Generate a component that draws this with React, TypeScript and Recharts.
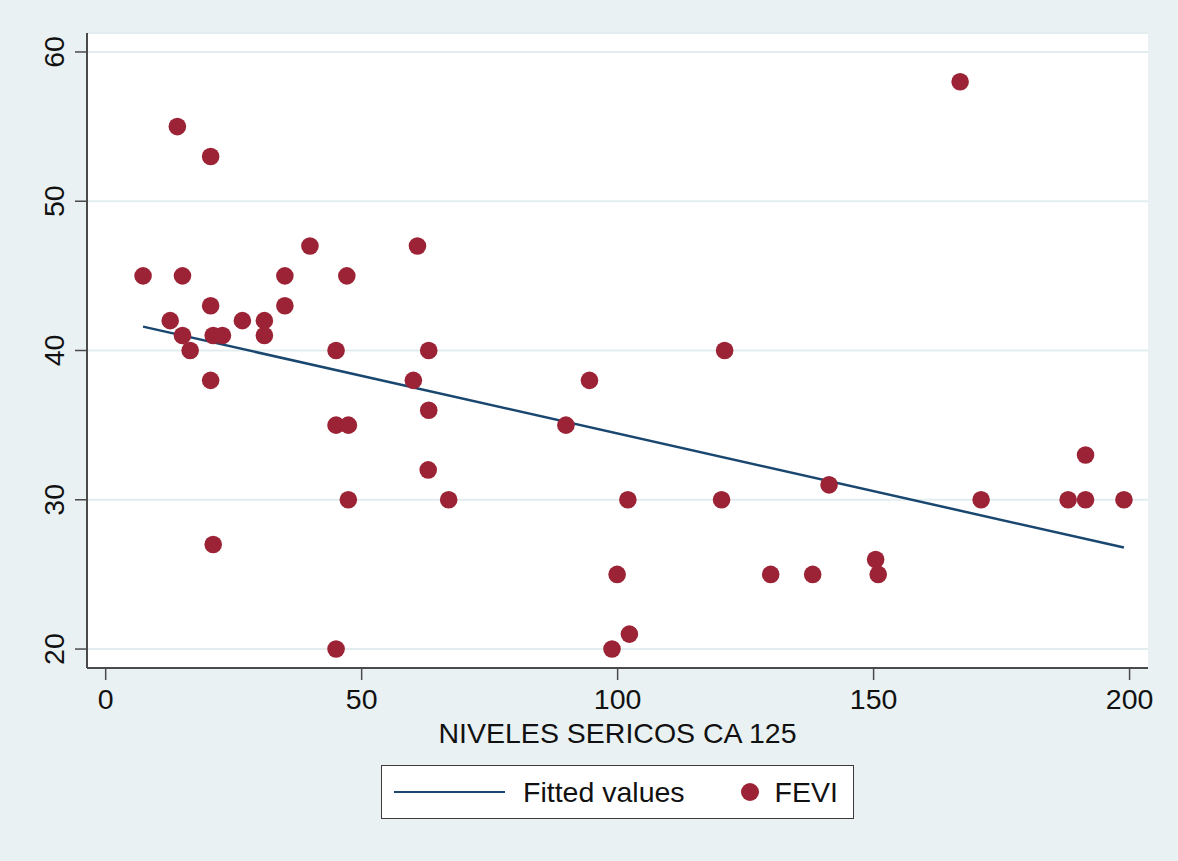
import { ScatterChart, Scatter, XAxis, YAxis, CartesianGrid } from 'recharts';

// CA 125 serum levels (x) and FEVI (y)
const ca125 = [
    7.3, 14.0, 20.5, 12.6, 15.0, 15.0, 16.5, 20.5, 21.0, 22.8,
    20.5, 21.0, 26.7, 31.0, 31.0, 35.0, 35.0, 39.9, 45.0, 47.1,
    45.0, 47.4, 47.4, 45.0, 60.9, 60.1, 63.1, 63.1, 63.0, 67.0,
    89.9, 94.5, 102.0, 99.9, 98.9, 102.3, 120.9, 120.3, 129.9, 138.1,
    141.3, 150.4, 150.9, 166.9, 171.0, 188.0, 191.4, 191.4, 198.9,
];
const fevi = [
    45, 55, 53, 42, 45, 41, 40, 43, 41, 41,
    38, 27, 42, 42, 41, 45, 43, 47, 40, 45,
    35, 35, 30, 20, 47, 38, 40, 36, 32, 30,
    35, 38, 30, 25, 20, 21, 40, 30, 25, 25,
    31, 26, 25, 58, 30, 30, 33, 30, 30,
];

// linear fit endpoints (Fitted values)
const fittedX = [7.3, 198.9];
const fittedY = [41.6, 26.8];

const xTicks = [0, 50, 100, 150, 200];
const yTicks = [20, 30, 40, 50, 60];

const scatterData = ca125.map((x, i) => ({ x, y: fevi[i] }));
const fittedData = fittedX.map((x, i) => ({ x, y: fittedY[i] }));

const BG = '#e9f1f3';
const GRID = '#e3edf0';
const AXIS = '#4a4a4a';
const DOT = '#9b2335';
const LINE = '#1a476f';
const FONT = '"Liberation Sans", Arial, Helvetica, sans-serif';
const FS = 28.5;

const YTick = (props: any) => {
    const { x, y, payload } = props;
    const cx = x - 11;
    return (
        <text
            x={cx}
            y={y}
            transform={`rotate(-90, ${cx}, ${y})`}
            textAnchor="middle"
            fill="#111"
            fontSize={FS}
            fontFamily={FONT}
        >
            {payload.value}
        </text>
    );
};

const XTitle = (props: any) => {
    const { viewBox } = props;
    return (
        <text
            x={viewBox.x + viewBox.width / 2}
            y={viewBox.y + 75}
            textAnchor="middle"
            fill="#111"
            fontSize={FS}
            fontFamily={FONT}
        >
            NIVELES SERICOS CA 125
        </text>
    );
};

// legend drawn as a plain box under the plot, like Stata's
const LegendBox = () => (
    <div
        style={{
            position: 'absolute',
            left: 381,
            top: 765,
            boxSizing: 'border-box',
            width: 473,
            height: 54,
            background: '#fff',
            border: '1.5px solid #3a3a3a',
            display: 'flex',
            alignItems: 'center',
            fontFamily: FONT,
            fontSize: FS,
            color: '#111',
        }}
    >
        <div style={{ marginLeft: 12, width: 111, height: 2.5, background: LINE }} />
        <span style={{ marginLeft: 18 }}>Fitted values</span>
        <div style={{ marginLeft: 56, width: 18, height: 18, borderRadius: 9, background: DOT }} />
        <span style={{ marginLeft: 16 }}>FEVI</span>
    </div>
);

export default function App() {
    return (
        <div style={{ position: 'absolute', left: 0, top: 0, width: 1178, height: 861, background: BG }}>
            <ScatterChart
                width={1178}
                height={861}
                margin={{ top: 33, right: 30, left: 27, bottom: 133 }}
            >
                <CartesianGrid
                    fill="#fff"
                    stroke={GRID}
                    strokeWidth={2}
                    vertical={false}
                    horizontal={true}
                />
                <XAxis
                    type="number"
                    dataKey="x"
                    domain={[-3.65, 203.6]}
                    ticks={xTicks}
                    allowDataOverflow
                    height={60}
                    tickSize={12}
                    tickMargin={9}
                    axisLine={{ stroke: AXIS, strokeWidth: 2 }}
                    tickLine={{ stroke: AXIS, strokeWidth: 1.5 }}
                    tick={{ fill: '#111', fontSize: FS, fontFamily: FONT }}
                    label={<XTitle />}
                />
                <YAxis
                    type="number"
                    dataKey="y"
                    domain={[18.73, 61.27]}
                    ticks={yTicks}
                    allowDataOverflow
                    width={60}
                    tickSize={12}
                    tickMargin={0}
                    axisLine={{ stroke: AXIS, strokeWidth: 2 }}
                    tickLine={{ stroke: AXIS, strokeWidth: 1.5 }}
                    tick={<YTick />}
                />
                <Scatter
                    name="Fitted values"
                    data={fittedData}
                    line={{ stroke: LINE, strokeWidth: 2.5 }}
                    shape={() => <g />}
                    isAnimationActive={false}
                />
                <Scatter
                    name="FEVI"
                    data={scatterData}
                    fill={DOT}
                    shape={(p: any) => <circle cx={p.cx} cy={p.cy} r={8.8} fill={DOT} />}
                    isAnimationActive={false}
                />
            </ScatterChart>
            <LegendBox />
        </div>
    );
}
